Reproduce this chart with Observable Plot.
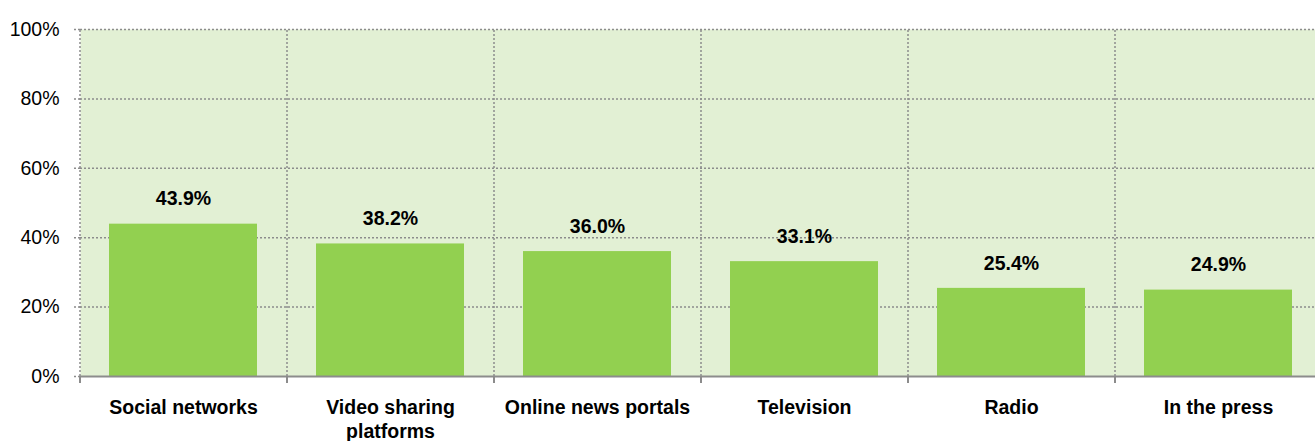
<!DOCTYPE html>
<html>
<head>
<meta charset="utf-8">
<script src="https://cdn.jsdelivr.net/npm/d3@7"></script>
<script src="https://cdn.jsdelivr.net/npm/@observablehq/plot@0.6"></script>
<style>
  html, body { margin: 0; padding: 0; background: #fff; overflow: hidden; }
  #chart { width: 1315px; height: 441px; }
</style>
</head>
<body>
<div id="chart"></div>
<script>
const categories = ["Social networks", "Video sharing platforms", "Online news portals", "Television", "Radio", "In the press"];
const categoryLabels = ["Social networks", "Video sharing\nplatforms", "Online news portals", "Television", "Radio", "In the press"];
const values = [43.9, 38.2, 36.0, 33.1, 25.4, 24.9];
const valueLabels = ["43.9%", "38.2%", "36.0%", "33.1%", "25.4%", "24.9%"];
const yTicks = [0, 20, 40, 60, 80, 100];
const yTickLabels = ["0%", "20%", "40%", "60%", "80%", "100%"];

const data = categories.map((c, i) => ({category: c, value: values[i], label: valueLabels[i]}));
const labelOf = new Map(categories.map((c, i) => [c, categoryLabels[i]]));
const yLabelOf = new Map(yTicks.map((t, i) => [t, yTickLabels[i]]));

const FONT = "'Liberation Sans', Arial, sans-serif";
const W = 1315, H = 441, ML = 80, MT = 29, MB = 65, XEND = 1322;
const step = (XEND - ML) / categories.length;
const grid = "#8c8c8c";

const chart = Plot.plot({
  width: W,
  height: H,
  marginLeft: ML,
  marginRight: W - XEND,
  marginTop: MT,
  marginBottom: MB,
  style: {fontFamily: FONT, fontSize: "19.5px", color: "#000", background: "transparent", overflow: "visible"},
  x: {domain: categories, range: [ML, XEND], paddingInner: 0.285, paddingOuter: 0.1425, align: 0.5},
  y: {domain: [0, 100], range: [H - MB, MT]},
  marks: [
    Plot.frame({fill: "#E2F0D4", stroke: null}),
    Plot.ruleY(yTicks.filter(t => t > 0), {y: d => d, stroke: grid, strokeWidth: 1.5, strokeDasharray: "2,2"}),
    Plot.ruleX(categories, {x: d => d, dx: -step / 2, y1: 0, y2: 100, stroke: grid, strokeWidth: 1.5, strokeDasharray: "2,2"}),
    Plot.ruleX(categories.slice(-1), {x: d => d, dx: step / 2, y1: 0, y2: 100, stroke: grid, strokeWidth: 1.5, strokeDasharray: "2,2"}),
    Plot.barY(data, {x: "category", y: "value", fill: "#92D050"}),
    Plot.ruleY([0], {stroke: "#8c8c8c", strokeWidth: 2}),
    Plot.ruleX(categories, {x: d => d, dx: -step / 2, y1: 0, y2: 0, insetBottom: -7, stroke: "#8c8c8c", strokeWidth: 2}),
    Plot.ruleX(categories.slice(-1), {x: d => d, dx: step / 2, y1: 0, y2: 0, insetBottom: -7, stroke: "#8c8c8c", strokeWidth: 2}),
    Plot.text(data, {x: "category", y: "value", text: "label", dy: -25, lineAnchor: "middle", fontWeight: "bold", fontSize: 19.5, fill: "#000"}),
    Plot.axisY({ticks: yTicks, tickFormat: d => yLabelOf.get(d), tickSize: 7, tickPadding: 14, stroke: grid, strokeWidth: 1.5, strokeDasharray: "2,2", fontSize: 19.5, label: null}),
    Plot.axisX({tickSize: 0, tickPadding: 21, tickFormat: d => labelOf.get(d), lineAnchor: "top", lineHeight: 1.2, fontWeight: "bold", fontSize: 19.5, label: null})
  ]
});
document.getElementById("chart").appendChild(chart);
</script>
</body>
</html>
